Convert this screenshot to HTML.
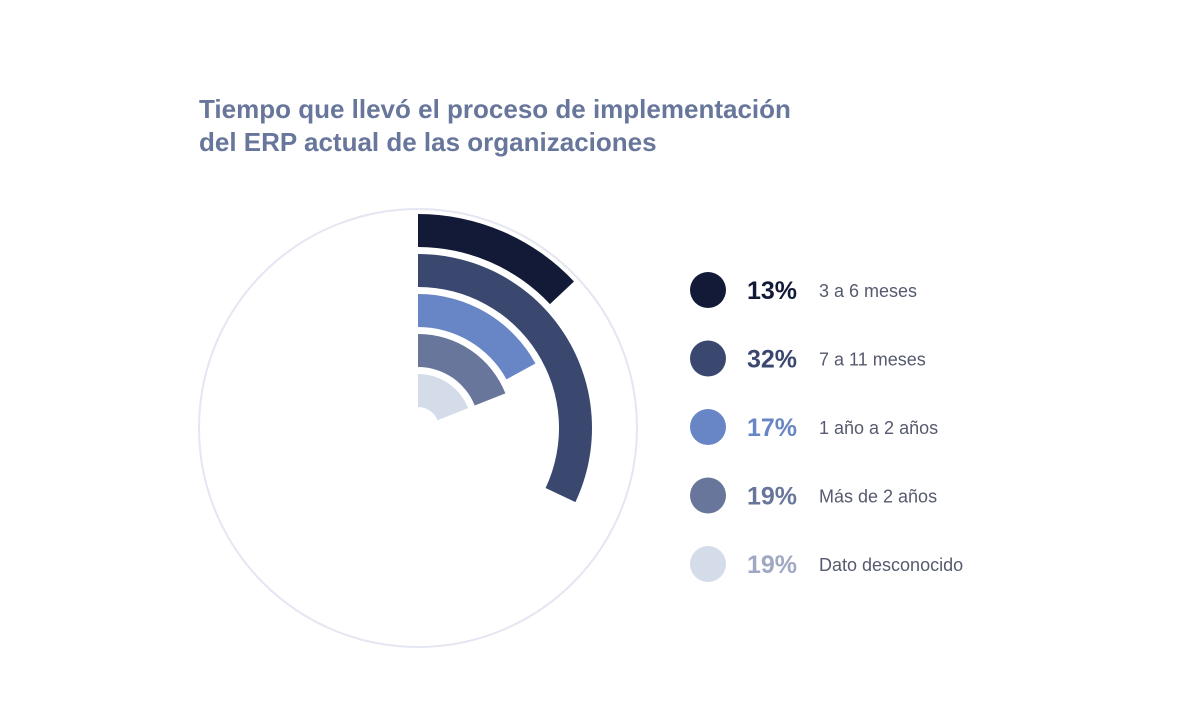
<!DOCTYPE html>
<html><head><meta charset="utf-8">
<style>
html,body{margin:0;padding:0;background:#fff;}
body{width:1180px;height:718px;position:relative;overflow:hidden;font-family:"Liberation Sans",sans-serif;}
#title{position:absolute;left:199px;top:93px;font-size:26px;font-weight:bold;color:#67769a;line-height:33px;margin:0;}
svg{position:absolute;left:0;top:0;}
</style></head><body>
<h1 id="title">Tiempo que llevó el proceso de implementación<br>del ERP actual de las organizaciones</h1>
<svg id="chart" width="1180" height="718"></svg>
<script>
const categories=["3 a 6 meses","7 a 11 meses","1 año a 2 años","Más de 2 años","Dato desconocido"];
const values=[13,32,17,19,19];
const labels=["13%","32%","17%","19%","19%"];
const colors=["#131a38","#3a476e","#6886c5","#67769a","#d5dce9"];
const textColors=["#131a38","#3a476e","#6886c5","#67769a","#a0a9c4"];
const NS="http://www.w3.org/2000/svg";
const svg=document.getElementById('chart');
const cx=418,cy=428;
function ang(v){return v/100*2*Math.PI;}
function pt(r,a){return [cx+r*Math.sin(a),cy-r*Math.cos(a)];}
const bg=document.createElementNS(NS,'circle');


bg.setAttribute('cx',cx);bg.setAttribute('cy',cy);bg.setAttribute('r',219);
bg.setAttribute('fill','none');bg.setAttribute('stroke','#e4e6f2');bg.setAttribute('stroke-width','2');
svg.appendChild(bg);
values.forEach((v,i)=>{
  const ro=214-40*i, ri=ro-33, a=ang(v);
  const large=a>Math.PI?1:0;
  const p1=pt(ro,0),p2=pt(ro,a),p3=pt(ri,a),p4=pt(ri,0);
  const d=`M${p1[0]},${p1[1]} A${ro},${ro} 0 ${large} 1 ${p2[0]},${p2[1]} L${p3[0]},${p3[1]} A${ri},${ri} 0 ${large} 0 ${p4[0]},${p4[1]} Z`;
  const path=document.createElementNS(NS,'path');
  
  
  path.setAttribute('d',d);path.setAttribute('fill',colors[i]);
  svg.appendChild(path);
  const y=290+68.5*i;
  const c=document.createElementNS(NS,'circle');
  
  
  c.setAttribute('cx',708);c.setAttribute('cy',y);c.setAttribute('r',18);c.setAttribute('fill',colors[i]);
  svg.appendChild(c);
  const t=document.createElementNS(NS,'text');
  
  
  t.setAttribute('x',747);t.setAttribute('y',y+9);t.setAttribute('font-size','25');t.setAttribute('font-weight','bold');
  t.setAttribute('fill',textColors[i]);t.setAttribute('font-family','Liberation Sans, sans-serif');
  t.textContent=labels[i];svg.appendChild(t);
  const l=document.createElementNS(NS,'text');
  
  
  l.setAttribute('x',819);l.setAttribute('y',y+7);l.setAttribute('font-size','18');
  l.setAttribute('fill','#555a6e');l.setAttribute('font-family','Liberation Sans, sans-serif');
  l.textContent=categories[i];svg.appendChild(l);
});
</script>
</body></html>
